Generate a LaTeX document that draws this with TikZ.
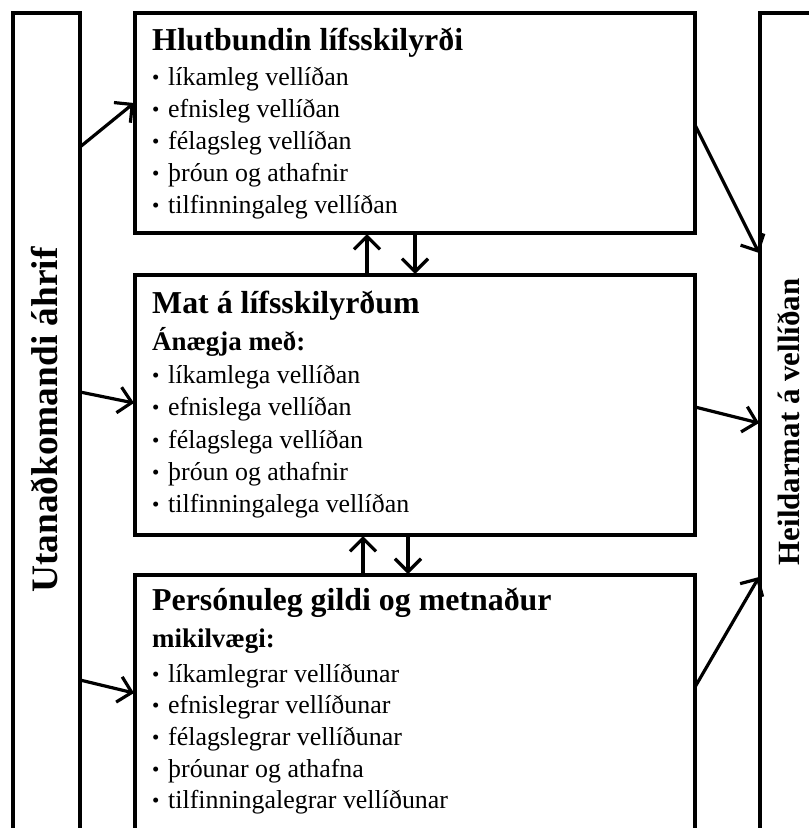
\documentclass[tikz,border=0pt]{standalone}
\usepackage{fontspec}
\setmainfont{Liberation Serif}
\usetikzlibrary{arrows.meta,calc}

\newcommand{\bul}{\makebox[16bp][l]{\raisebox{1bp}{\fontsize{21}{21}\selectfont •}}}

\begin{document}
\begin{tikzpicture}[x=1bp,y=-1bp,
    box/.style={draw,line width=4bp,inner sep=0,outer sep=0},
    conn/.style={line width=3.2bp,-{Straight Barb[length=13bp,width=26bp]}},
    head/.style={anchor=base west,inner sep=0,font=\bfseries\fontsize{32}{32}\selectfont},
    sub/.style={anchor=base west,inner sep=0,font=\bfseries\fontsize{27}{27}\selectfont},
    item/.style={anchor=base west,inner sep=0,font=\fontsize{26}{26}\selectfont},
    side/.style={rotate=90,inner sep=0,font=\bfseries\fontsize{#1}{#1}\selectfont}]
  \useasboundingbox (0,0) rectangle (809,828);
  \clip (0,0) rectangle (809,828);
  \fill[white] (0,0) rectangle (809,828);

  % boxes
  \node[box,minimum width=67bp,minimum height=887bp] (outer) at (46.5,456.5) {};
  \node[box,minimum width=140bp,minimum height=887bp] (overall) at (830,456.5) {};
  \node[box,minimum width=560bp,minimum height=220bp] (objective) at (415,123) {};
  \node[box,minimum width=560bp,minimum height=260bp] (evaluation) at (415,405) {};
  \node[box,minimum width=560bp,minimum height=325bp] (values) at (415,737.5) {};

  % side labels
  \node[side=37.5] (outerlabel) at (44,420) {Utanaðkomandi áhrif};
  \node[side=31] (overalllabel) at (789,422) {Heildarmat á vellíðan};

  % objective conditions
  \node[head] (objtitle) at (152,50) {Hlutbundin lífsskilyrði};
  \node[item] (obj1) at (152,85) {\bul líkamleg vellíðan};
  \node[item] (obj2) at (152,117) {\bul efnisleg vellíðan};
  \node[item] (obj3) at (152,149) {\bul félagsleg vellíðan};
  \node[item] (obj4) at (152,181) {\bul þróun og athafnir};
  \node[item] (obj5) at (152,213) {\bul tilfinningaleg vellíðan};

  % evaluation
  \node[head] (evaltitle) at (152,313) {Mat á lífsskilyrðum};
  \node[sub] (evalsub) at (152,350) {Ánægja með:};
  \node[item] (eval1) at (152,383) {\bul líkamlega vellíðan};
  \node[item] (eval2) at (152,415) {\bul efnislega vellíðan};
  \node[item] (eval3) at (152,448) {\bul félagslega vellíðan};
  \node[item] (eval4) at (152,480) {\bul þróun og athafnir};
  \node[item] (eval5) at (152,512) {\bul tilfinningalega vellíðan};

  % personal values
  \node[head] (valtitle) at (152,610) {Persónuleg gildi og metnaður};
  \node[sub] (valsub) at (152,647) {mikilvægi:};
  \node[item] (val1) at (152,682) {\bul líkamlegrar vellíðunar};
  \node[item] (val2) at (152,713) {\bul efnislegrar vellíðunar};
  \node[item] (val3) at (152,745) {\bul félagslegrar vellíðunar};
  \node[item] (val4) at (152,777) {\bul þróunar og athafna};
  \node[item] (val5) at (152,808) {\bul tilfinningalegrar vellíðunar};

  % connectors
  \draw[conn] ($(outer.north east)+(0,134)$) -- ($(objective.north west)+(-1,90)$);
  \draw[conn] ($(outer.north east)+(0,379)$) -- ($(evaluation.north west)+(-1,128)$);
  \draw[conn] ($(outer.north east)+(0,667)$) -- ($(values.north west)+(-1,118)$);
  \draw[conn] ($(objective.north east)+(0,112)$) -- ($(overall.north west)+(-1,240)$);
  \draw[conn] ($(evaluation.north east)+(0,132)$) -- ($(overall.north west)+(-1,410)$);
  \draw[conn] ($(values.north east)+(0,112)$) -- ($(overall.north west)+(-1,564)$);
  \draw[conn] ($(evaluation.north west)+(232,0)$) -- ($(objective.south west)+(232,1)$);
  \draw[conn] (objective.south) -- ($(evaluation.north)+(0,-1)$);
  \draw[conn] ($(values.north west)+(228,0)$) -- ($(evaluation.south west)+(228,1)$);
  \draw[conn] ($(evaluation.south west)+(273,0)$) -- ($(values.north west)+(273,-1)$);
\end{tikzpicture}
\end{document}
